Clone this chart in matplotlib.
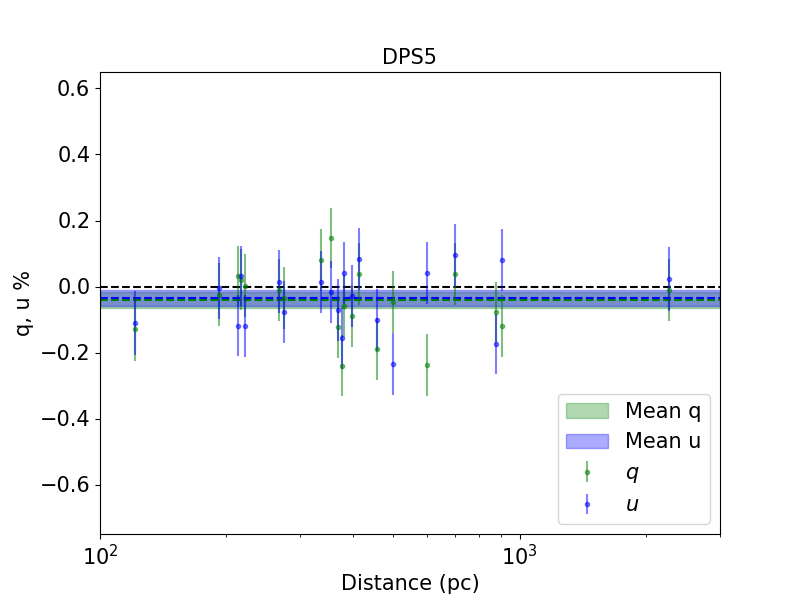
""" DPS5 polarisation vs distance """
import matplotlib
matplotlib.use('Agg')
import matplotlib.pyplot as plt

# distances (pc) of the stars
dist = [121, 192, 213, 217, 221, 267, 275, 337, 356, 368, 377, 381,
        399, 413, 456, 498, 600, 701, 878, 906, 2272]
# q and u in percent, with their errors
q = [-0.128, -0.025, 0.033, 0.021, 0.003, -0.010, -0.034, 0.081, 0.147,
     -0.124, -0.240, -0.058, -0.089, 0.038, -0.189, -0.046, -0.237, 0.038,
     -0.077, -0.119, -0.010]
q_err = [0.097, 0.096, 0.091, 0.093, 0.094, 0.094, 0.094, 0.094, 0.092,
         0.094, 0.092, 0.094, 0.094, 0.094, 0.094, 0.094, 0.094, 0.094,
         0.091, 0.094, 0.094]
u = [-0.110, -0.004, -0.119, 0.032, -0.121, 0.015, -0.076, 0.014, -0.016,
     -0.070, -0.155, 0.041, -0.028, 0.084, -0.101, -0.234, 0.041, 0.096,
     -0.174, 0.081, 0.023]
u_err = [0.097, 0.094, 0.092, 0.091, 0.094, 0.096, 0.094, 0.094, 0.094,
         0.094, 0.094, 0.094, 0.094, 0.094, 0.094, 0.094, 0.094, 0.094,
         0.090, 0.094, 0.097]
# mean values and their spread
mean_q, mean_q_err = -0.041, 0.025
mean_u, mean_u_err = -0.035, 0.023

plt.rcParams['font.size'] = 15

fig, ax = plt.subplots(figsize=(8, 6), dpi=100)
ax.axhspan(mean_q - mean_q_err, mean_q + mean_q_err, color='g', alpha=0.3,
           label='Mean q')
ax.axhspan(mean_u - mean_u_err, mean_u + mean_u_err, color='b', alpha=0.33,
           label='Mean u')
ax.axhline(0, color='k', ls='--')
ax.axhline(mean_q, color='g', ls='--')
ax.axhline(mean_u, color='b', ls='--')
ax.errorbar(dist, q, yerr=q_err, fmt='.', color='g', alpha=0.5,
            label='$q$')
ax.errorbar(dist, u, yerr=u_err, fmt='.', color='b', alpha=0.5,
            label='$u$')
ax.set_xscale('log')
ax.set_xlim(100, 3000)
ax.set_ylim(-0.75, 0.65)
ax.set_xlabel('Distance (pc)')
ax.set_ylabel('q, u %')
ax.set_title('DPS5', fontsize=15)
ax.legend(loc='lower right')
fig.savefig('out.png')
